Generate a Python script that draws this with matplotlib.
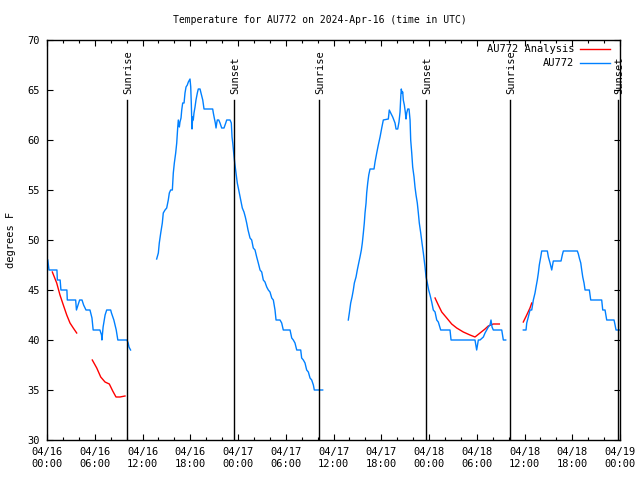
import matplotlib
matplotlib.use("Agg")
import matplotlib.pyplot as plt
import matplotlib.dates as mdates
import pandas as pd

plt.rcParams['font.family'] = ['DejaVu Sans Mono']

BASE = pd.Timestamp('2024-04-16 00:00')

# hours since 2024-04-16 00:00 UTC, temperature (F)
obs_seg1_h = [0.1, 0.25, 1.25, 1.3, 1.65, 1.75, 2.5, 2.55, 3.6, 3.7, 3.9, 4.1, 4.4, 4.6, 4.9, 5.4, 5.65, 5.8,
              6.65, 6.85, 6.9, 7.05, 7.3, 7.5, 8.0, 8.1, 8.4, 8.7, 8.9, 10.05, 10.2, 10.3, 10.5]
obs_seg1_t = [48, 47, 47, 46, 46, 45, 45, 44, 44, 43, 43.5, 44, 44, 43.5, 43, 43, 42.2, 41,
              41, 40.5, 40, 41.3, 42.5, 43, 43, 42.7, 42, 41, 40, 40, 39.7, 39.3, 39]

obs_seg2_h = [13.78, 13.99, 14.11, 14.29, 14.49, 14.61, 14.83, 15.04, 15.24, 15.37, 15.54, 15.75, 15.8, 15.87,
              16.0, 16.17, 16.3, 16.42, 16.5, 16.63, 16.71, 16.84, 16.93, 17.05, 17.22, 17.34, 17.47, 17.63,
              17.76, 17.97, 18.06, 18.13, 18.22, 18.31, 18.38, 18.47, 18.6, 18.72, 18.89, 19.01, 19.23, 19.35,
              19.57, 19.73, 20.82, 20.9, 21.02, 21.15, 21.24, 21.33, 21.4, 21.58, 21.74, 21.95, 22.24, 22.46,
              22.58, 23.0, 23.16, 23.25, 23.34, 23.46, 23.59, 23.75, 23.91, 24.09, 24.34, 24.54, 24.75, 24.92,
              25.09, 25.26, 25.51, 25.72, 25.92, 26.14, 26.35, 26.55, 26.77, 26.98, 27.18, 27.39, 27.61, 27.81,
              28.02, 28.24, 28.44, 28.65, 28.78, 29.28, 29.49, 29.69, 30.54, 30.75, 30.95, 31.16, 31.38, 31.88,
              32.0, 32.21, 32.42, 32.63, 32.84, 33.05, 33.26, 33.47, 33.59, 34.64]
obs_seg2_t = [48.1, 48.7, 49.7, 50.7, 51.7, 52.7, 53, 53.2, 54, 54.7, 55, 55, 55.7, 56.7,
              57.7, 58.7, 59.7, 61.2, 62, 61.3, 61.8, 62.2, 63, 63.7, 63.7, 64.7, 65.3, 65.5,
              65.8, 66.1, 65.3, 63.7, 61.1, 62.3, 62, 62.7, 63.3, 64, 64.7, 65.1, 65.1, 64.7,
              64, 63.1, 63.1, 62.7, 62.2, 61.7, 61.2, 61.7, 62, 62, 61.7, 61.2, 61.2, 61.7,
              62, 62, 61.7, 60.3, 59.7, 58.7, 57.7, 56.7, 55.7, 55, 54, 53.2, 52.8, 52.3,
              51.7, 51, 50.2, 50, 49.2, 49, 48.3, 47.7, 47, 46.8, 46, 45.8, 45.3, 45,
              44.8, 44.2, 44, 43, 42, 42, 41.7, 41, 41, 40.2, 40, 39.7, 39, 39,
              38.2, 38, 37.7, 37, 36.8, 36.2, 36, 35.5, 35, 35]

obs_seg3_h = [37.86, 37.99, 38.16, 38.33, 38.49, 38.62, 38.83, 38.99, 39.17, 39.33, 39.5, 39.62, 39.75, 39.87,
              39.96, 40.09, 40.17, 40.3, 40.43, 40.59, 41.09, 41.22, 41.43, 41.63, 41.85, 42.06, 42.26, 42.89,
              43.01, 43.19, 43.44, 43.73, 43.86, 44.07, 44.23, 44.36, 44.45, 44.52, 44.61, 44.7, 44.77, 44.9,
              45.02, 45.11, 45.2, 45.33, 45.49, 45.62, 45.7, 45.83, 45.95, 46.12, 46.24, 46.37, 46.53, 46.66,
              46.78, 46.96, 47.12, 47.29, 47.5, 47.63, 47.79, 47.96, 48.13, 48.34, 48.54, 48.76, 48.97, 49.17,
              49.47, 50.64, 50.77, 53.78, 53.99, 54.2, 54.41, 54.83, 55.04, 55.25, 55.45, 55.67, 55.79, 55.92,
              56.08, 57.14, 57.34, 57.64]
obs_seg3_t = [42, 42.7, 43.7, 44.3, 45, 45.7, 46.3, 47, 47.7, 48.3, 49, 49.7, 50.7, 51.7,
              52.7, 53.7, 54.7, 55.7, 56.5, 57.1, 57.1, 57.8, 58.7, 59.5, 60.3, 61.2, 62, 62.1,
              63, 62.7, 62.3, 61.7, 61.1, 61.1, 61.8, 62.8, 64.3, 65.1, 64.7, 64.8, 64, 63.5,
              62.8, 62.1, 62.7, 63.1, 63.1, 62, 60, 58.7, 57.3, 56.3, 55.3, 54.5, 53.7, 52.7,
              51.7, 50.7, 49.7, 48.7, 47.3, 46.3, 45.7, 45, 44.5, 43.8, 43, 42.8, 42, 41.8,
              41, 41, 40, 40, 39, 40, 40, 40.3, 40.7, 41, 41.3, 41.5, 42, 41.3,
              41, 41, 40, 40]

obs_seg4_h = [59.85, 60.19, 60.28, 60.48, 60.69, 60.91, 61.11, 61.32, 61.45, 61.61, 61.74, 61.86, 62.04, 62.16,
              62.87, 63.0, 63.21, 63.42, 63.62, 64.59, 64.75, 64.88, 66.64, 66.77, 66.89, 67.07, 67.19, 67.32,
              67.48, 67.61, 68.15, 68.32, 69.7, 69.83, 70.12, 70.33, 71.25, 71.38, 71.5, 72.0]
obs_seg4_t = [41, 41, 41.7, 42.3, 43, 43, 44, 44.7, 45.3, 46, 46.7, 47.5, 48.3, 48.9,
              48.9, 48.3, 47.7, 47, 47.9, 47.9, 48.5, 48.9, 48.9, 48.6, 48.2, 47.7, 47, 46.3,
              45.7, 45, 45, 44, 44, 43, 43, 42, 42, 41.5, 41, 41]

ana_seg1_h = [0.67, 1.22, 1.63, 2.05, 2.48, 2.89, 3.3, 3.73]
ana_seg1_t = [46.8, 45.7, 44.5, 43.5, 42.5, 41.7, 41.2, 40.7]
ana_seg2_h = [5.69, 6.25, 6.75, 7.29, 7.83, 8.26, 8.67, 9.17, 9.8]
ana_seg2_t = [38.0, 37.2, 36.3, 35.8, 35.6, 34.9, 34.3, 34.3, 34.4]
ana_seg3_h = [48.76, 49.17, 49.6, 50.23, 50.85, 51.48, 52.31, 53.15, 53.78, 54.41, 55.04, 55.45, 56.08, 56.84]
ana_seg3_t = [44.2, 43.5, 42.8, 42.2, 41.6, 41.2, 40.8, 40.5, 40.3, 40.7, 41.1, 41.4, 41.6, 41.6]
ana_seg4_h = [59.85, 60.28, 60.69, 60.91]
ana_seg4_t = [41.8, 42.5, 43.2, 43.7]

sun_event_h = [10.05, 23.5, 34.18, 47.63, 58.18, 71.75]
sun_event_lbl = ['Sunrise', 'Sunset', 'Sunrise', 'Sunset', 'Sunrise', 'Sunset']

BLUE = '#0080ff'
RED = '#ff0000'


def to_time(hours):
    return BASE + pd.to_timedelta(hours, unit='h')


fig = plt.figure(figsize=(6.4, 4.8), dpi=100)
ax = fig.add_axes([47 / 640, 40 / 480, 573 / 640, 400 / 480])

for i, (h, t) in enumerate([(ana_seg1_h, ana_seg1_t), (ana_seg2_h, ana_seg2_t),
                            (ana_seg3_h, ana_seg3_t), (ana_seg4_h, ana_seg4_t)]):
    ax.plot(to_time(h), t, color=RED, lw=1.0, label='AU772 Analysis' if i == 0 else None)
for i, (h, t) in enumerate([(obs_seg1_h, obs_seg1_t), (obs_seg2_h, obs_seg2_t),
                            (obs_seg3_h, obs_seg3_t), (obs_seg4_h, obs_seg4_t)]):
    ax.plot(to_time(h), t, color=BLUE, lw=1.0, label='AU772' if i == 0 else None)

for h, lbl in zip(sun_event_h, sun_event_lbl):
    tt = to_time(h)
    ax.plot([tt, tt], [30, 64], color='black', lw=1.0)
    ax.text(tt + pd.Timedelta(minutes=8), 64.6, lbl, rotation=90, ha='center', va='bottom', fontsize=7.5)

ax.set_xlim(BASE, BASE + pd.Timedelta(hours=72))
ax.set_ylim(30, 70)
ax.set_yticks(range(30, 71, 5))
ax.xaxis.set_major_locator(mdates.HourLocator(byhour=[0, 6, 12, 18]))
ax.xaxis.set_minor_locator(mdates.HourLocator(interval=2))
ax.xaxis.set_major_formatter(mdates.DateFormatter('%m/%d\n%H:%M'))
ax.tick_params(axis='both', which='major', direction='in', length=4, width=0.8,
               top=True, right=True, labelsize=7.5, pad=5)
ax.tick_params(axis='x', which='minor', direction='in', length=2, width=0.8, top=True)
for lab in ax.get_xticklabels():
    lab.set_multialignment('left')
for s in ax.spines.values():
    s.set_linewidth(1.0)

ax.set_ylabel('degrees F', fontsize=7.5, labelpad=8)
fig.suptitle('Temperature for AU772 on 2024-Apr-16 (time in UTC)', fontsize=7.0, y=0.968)

leg = ax.legend(loc='upper right', frameon=False, markerfirst=False, fontsize=7.5,
                handlelength=2.9, handletextpad=0.5, labelspacing=0.4,
                borderaxespad=0.0, bbox_to_anchor=(0.9895, 1.0))

fig.savefig('out.png', dpi=100)
